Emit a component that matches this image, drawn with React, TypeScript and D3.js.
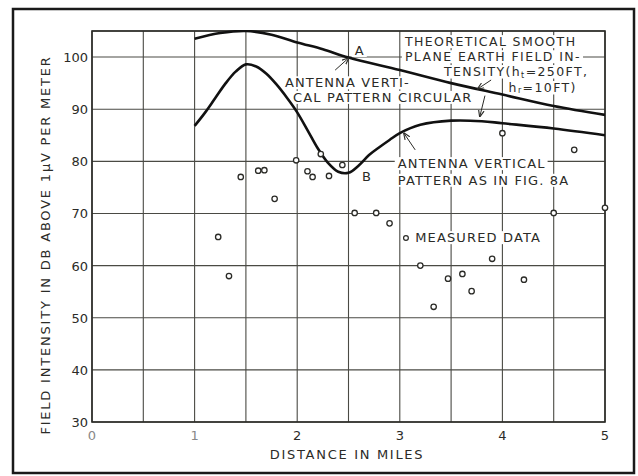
import React, { useEffect, useRef } from "react";
import * as d3 from "d3";

const W = 638;
const H = 476;

const xTicks = [0, 1, 2, 3, 4, 5];
const yTicks = [30, 40, 50, 60, 70, 80, 90, 100];
const xGrid = [0, 0.5, 1, 1.5, 2, 2.5, 3, 3.5, 4, 4.5, 5];
const yGrid = [30, 40, 50, 60, 70, 80, 90, 100, 105];

// theoretical smooth plane earth field intensity
const theoryX = [1.0, 1.25, 1.5, 1.75, 2.0, 2.25, 2.5, 3.0, 3.5, 4.0, 4.5, 5.0];
const theoryY = [103.5, 104.6, 105.0, 104.3, 102.8, 101.5, 99.9, 97.5, 95.0, 92.8, 90.6, 88.9];

// antenna vertical pattern curve
const patternX = [1.0, 1.1, 1.2, 1.3, 1.4, 1.5, 1.6, 1.7, 1.8, 1.9, 2.0, 2.1, 2.2, 2.3, 2.4, 2.5, 2.6, 2.7, 2.8, 2.9, 3.0, 3.2, 3.5, 3.8, 4.0, 4.5, 5.0];
const patternY = [86.8, 89.3, 92.1, 94.9, 97.2, 98.6, 98.2, 96.8, 94.7, 92.2, 89.4, 86.0, 82.5, 79.7, 78.0, 77.8, 79.2, 81.2, 82.7, 84.1, 85.4, 87.0, 87.8, 87.7, 87.3, 86.3, 85.0];

// measured data
const measuredX = [1.23, 1.335, 1.45, 1.62, 1.68, 1.78, 1.99, 2.10, 2.15, 2.23, 2.31, 2.44, 2.56, 2.77, 2.90, 3.20, 3.33, 3.47, 3.61, 3.70, 3.90, 4.0, 4.21, 4.50, 4.70, 5.0];
const measuredY = [65.5, 58.0, 77.0, 78.2, 78.3, 72.8, 80.2, 78.1, 77.0, 81.4, 77.2, 79.3, 70.1, 70.1, 68.1, 60.0, 52.1, 57.5, 58.4, 55.1, 61.3, 85.4, 57.3, 70.1, 82.2, 71.1];

// annotations (data coordinates)
const labelTexts = [
  "ANTENNA VERTI-",
  "CAL PATTERN CIRCULAR",
  "THEORETICAL SMOOTH",
  "PLANE EARTH FIELD IN-",
  "ANTENNA VERTICAL",
  "PATTERN AS IN FIG. 8A",
  "MEASURED DATA",
];
const labelX = [1.88, 1.96, 3.05, 3.05, 2.98, 2.98, 3.15];
const labelY = [94.2, 91.4, 102.1, 99.2, 78.7, 75.5, 64.5];
const labelSize = [13, 13, 12.5, 12.5, 13, 13, 13];

export default function App() {
  const ref = useRef<SVGSVGElement>(null);

  useEffect(() => {
    const svg = d3.select(ref.current);
    svg.selectAll("*").remove();

    const x = d3.scaleLinear().domain([0, 5]).range([92, 605]);
    const y = d3.scaleLinear().domain([30, 105]).range([422, 31]);
    const ink = "#2b2b27";
    const font = "DejaVu Sans, sans-serif";

    const defs = svg.append("defs");
    defs
      .append("clipPath")
      .attr("id", "plotclip")
      .append("rect")
      .attr("x", x(0))
      .attr("y", y(105) - 1)
      .attr("width", x(5) - x(0))
      .attr("height", y(30) - y(105) + 1);
    defs
      .append("marker")
      .attr("id", "arrow")
      .attr("viewBox", "0 0 10 10")
      .attr("refX", 9)
      .attr("refY", 5)
      .attr("markerWidth", 7)
      .attr("markerHeight", 7)
      .attr("orient", "auto")
      .append("path")
      .attr("d", "M0,1 L10,5 L0,9")
      .attr("fill", "none")
      .attr("stroke", ink)
      .attr("stroke-width", 1.6);

    svg.append("rect").attr("width", W).attr("height", H).attr("fill", "#fff");

    // outer frame
    svg
      .append("rect")
      .attr("x", 13)
      .attr("y", 9)
      .attr("width", 621)
      .attr("height", 464)
      .attr("fill", "none")
      .attr("stroke", "#1a1a1a")
      .attr("stroke-width", 2.5);

    // grid
    const g = svg.append("g");
    g.selectAll("line.vx")
      .data(xGrid)
      .join("line")
      .attr("x1", (d) => x(d))
      .attr("x2", (d) => x(d))
      .attr("y1", y(105))
      .attr("y2", y(30))
      .attr("stroke", "#4a4a44")
      .attr("stroke-width", 1.1);
    g.selectAll("line.hy")
      .data(yGrid)
      .join("line")
      .attr("x1", x(0))
      .attr("x2", x(5))
      .attr("y1", (d) => y(d))
      .attr("y2", (d) => y(d))
      .attr("stroke", "#4a4a44")
      .attr("stroke-width", 1.1);
    // plot frame
    g.append("rect")
      .attr("x", x(0))
      .attr("y", y(105))
      .attr("width", x(5) - x(0))
      .attr("height", y(30) - y(105))
      .attr("fill", "none")
      .attr("stroke", ink)
      .attr("stroke-width", 1.6);

    // tick labels
    svg
      .selectAll("text.yt")
      .data(yTicks)
      .join("text")
      .attr("x", x(0) - 4)
      .attr("y", (d) => y(d) + 5)
      .attr("text-anchor", "end")
      .attr("font-family", font)
      .attr("font-size", 13)
      .attr("fill", ink)
      .text((d) => String(d));
    svg
      .selectAll("text.xt")
      .data(xTicks)
      .join("text")
      .attr("x", (d) => x(d))
      .attr("y", y(30) + 18)
      .attr("text-anchor", "middle")
      .attr("font-family", font)
      .attr("font-size", 13)
      .attr("fill", (d) => (d < 2 ? "#888" : ink))
      .text((d) => String(d));

    // axis titles
    svg
      .append("text")
      .attr("x", 347)
      .attr("y", 459)
      .attr("text-anchor", "middle")
      .attr("font-family", font)
      .attr("font-size", 13)
      .attr("letter-spacing", 1.7)
      .attr("fill", ink)
      .text("DISTANCE IN MILES");
    svg
      .append("text")
      .attr("transform", "translate(50,245) rotate(-90)")
      .attr("text-anchor", "middle")
      .attr("font-family", font)
      .attr("font-size", 13)
      .attr("letter-spacing", 1.8)
      .attr("fill", ink)
      .text("FIELD INTENSITY IN DB ABOVE 1\u03BCV PER METER");

    // annotation layer (text with white backgrounds)
    const ann = svg.append("g");
    const addText = (tx: number, ty: number, s: any, anchor = "start", size = 13) => {
      const t = ann
        .append("text")
        .attr("x", tx)
        .attr("y", ty)
        .attr("text-anchor", anchor)
        .attr("font-family", font)
        .attr("font-size", size)
        .attr("letter-spacing", size < 13 ? 1.4 : 1.15)
        .attr("fill", ink);
      if (typeof s === "string") t.text(s);
      else s(t);
      return t;
    };
    const texts: any[] = [];
    labelTexts.forEach((s, i) => {
      texts.push(addText(x(labelX[i]), y(labelY[i]), s, "start", labelSize[i]));
    });
    // TENSITY(ht=250FT,
    texts.push(
      addText(
        x(3.43),
        y(96.36),
        (t: any) => {
          t.append("tspan").text("TENSITY(h");
          t.append("tspan").attr("font-size", 8).attr("dy", 1.5).text("t");
          t.append("tspan").attr("dy", -1.5).text("=250FT,");
        },
        "start",
        12.5
      )
    );
    texts.push(
      addText(
        x(4.06),
        y(93.3),
        (t: any) => {
          t.append("tspan").text("h");
          t.append("tspan").attr("font-size", 8).attr("dy", 1.5).text("r");
          t.append("tspan").attr("dy", -1.5).text("=10FT)");
        },
        "start",
        12.5
      )
    );
    const tA = addText(x(2.61), y(100.4), "A", "middle", 13);
    const tB = addText(x(2.68), y(76.2), "B", "middle", 13);
    texts.push(tA, tB);

    // backgrounds
    const bg = svg.insert("g", () => ann.node());
    texts.forEach((t) => {
      const b = (t.node() as SVGTextElement).getBBox();
      bg.append("rect")
        .attr("x", b.x - 3)
        .attr("y", b.y + 1)
        .attr("width", b.width + 5)
        .attr("height", b.height - 2)
        .attr("fill", "#fff");
    });

    // curves
    const line = d3
      .line<number>()
      .x((d) => x(d))
      .curve(d3.curveCatmullRom.alpha(0.5));
    const curves = svg.append("g").attr("clip-path", "url(#plotclip)");
    curves
      .append("path")
      .attr("d", line.y((_, i) => y(theoryY[i]))(theoryX))
      .attr("fill", "none")
      .attr("stroke", "#111")
      .attr("stroke-width", 2.6);
    curves
      .append("path")
      .attr("d", line.y((_, i) => y(patternY[i]))(patternX))
      .attr("fill", "none")
      .attr("stroke", "#111")
      .attr("stroke-width", 2.6);

    // arrows
    const arrowsFrom = [
      [2.37, 97.5],
      [3.89, 95.6],
      [3.83, 92.6],
      [3.15, 82.2],
    ];
    const arrowsTo = [
      [2.5, 99.8],
      [3.76, 93.9],
      [3.78, 88.6],
      [3.04, 85.4],
    ];
    svg
      .selectAll("line.arr")
      .data(arrowsFrom)
      .join("line")
      .attr("x1", (d) => x(d[0]))
      .attr("y1", (d) => y(d[1]))
      .attr("x2", (_, i) => x(arrowsTo[i][0]))
      .attr("y2", (_, i) => y(arrowsTo[i][1]))
      .attr("stroke", ink)
      .attr("stroke-width", 1)
      .attr("marker-end", "url(#arrow)");

    // measured points
    svg
      .selectAll("circle.m")
      .data(measuredX)
      .join("circle")
      .attr("cx", (d) => x(d))
      .attr("cy", (_, i) => y(measuredY[i]))
      .attr("r", 2.7)
      .attr("fill", "#fff")
      .attr("stroke", ink)
      .attr("stroke-width", 1.3);
    // legend marker
    svg
      .append("circle")
      .attr("cx", x(3.06))
      .attr("cy", y(65.3))
      .attr("r", 2.4)
      .attr("fill", "#fff")
      .attr("stroke", ink)
      .attr("stroke-width", 1.2);
  }, []);

  return (
    <svg
      ref={ref}
      width={W}
      height={H}
      style={{ position: "absolute", left: 0, top: 0 }}
    />
  );
}
